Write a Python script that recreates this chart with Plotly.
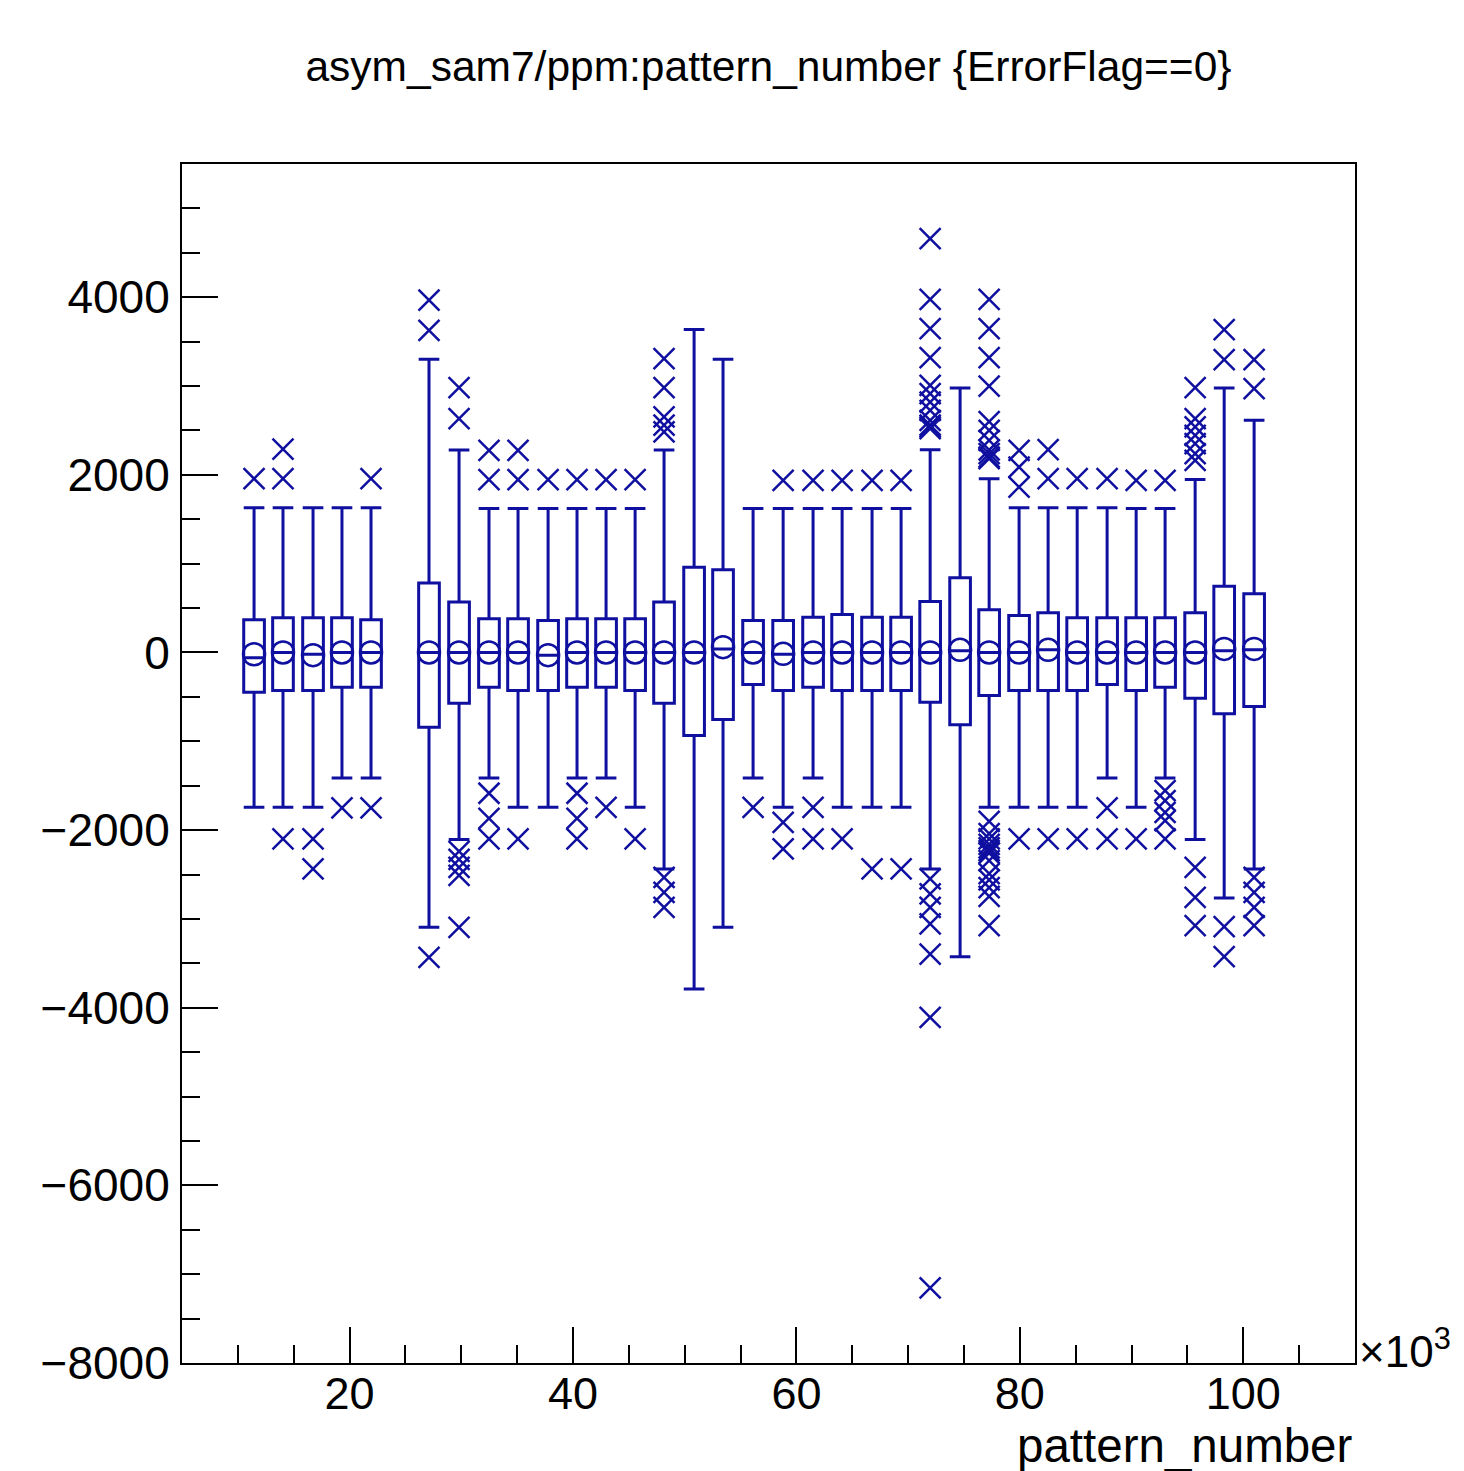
import plotly.graph_objects as go

# ---- data (pattern_number in units of 10^3, asym in ppm) ----
x_centers = [11.45, 14.04, 16.73, 19.32, 21.92, 27.11, 29.80, 32.48, 35.08, 37.77,
             40.36, 42.96, 45.56, 48.15, 50.84, 53.43, 56.12, 58.81, 61.49, 64.09,
             66.77, 69.37, 71.97, 74.65, 77.25, 79.93, 82.53, 85.13, 87.81, 90.41,
             93.00, 95.69, 98.29, 100.97]

q3 = [368, 391, 391, 391, 368, 781, 567, 380, 380, 361,
      380, 380, 380, 567, 961, 931, 361, 361, 398, 428,
      398, 398, 575, 842, 481, 417, 447, 391, 391, 391,
      391, 447, 747, 661]

q1 = [-447, -428, -428, -391, -391, -841, -571, -391, -428, -428,
      -391, -391, -428, -571, -935, -755, -361, -428, -391, -428,
      -428, -428, -560, -815, -484, -428, -428, -428, -361, -428,
      -391, -515, -691, -608]

medians = [-60, 0, -20, 0, 0, 0, 0, 0, 0, -30,
           0, 0, 0, 0, 0, 40, 0, -20, 0, 0,
           0, 0, 0, 20, 0, 0, 30, 0, 0, 0,
           0, 0, 20, 30]

means = [-20, 0, -30, 0, 0, 0, 0, 0, 0, -30,
         0, 0, 0, 0, 0, 60, 0, -15, 0, 0,
         0, 0, 0, 30, 0, 0, 30, 0, 0, 0,
         0, 0, 40, 40]

upper_whisker = [1630, 1630, 1630, 1630, 1630, 3301, 2280, 1620, 1620, 1620,
                 1620, 1620, 1620, 2280, 3636, 3301, 1620, 1620, 1620, 1620,
                 1620, 1620, 2284, 2978, 1957, 1630, 1630, 1630, 1630, 1620,
                 1620, 1949, 2978, 2614]

lower_whisker = [-1743, -1743, -1743, -1412, -1412, -3095, -2107, -1412, -1743, -1743,
                 -1412, -1412, -1743, -2437, -3789, -3095, -1412, -1743, -1412, -1743,
                 -1743, -1743, -2437, -3425, -1743, -1743, -1743, -1743, -1412, -1743,
                 -1412, -2107, -2764, -2437]

outliers = [
    [1957],
    [1957, 2290, -2099],
    [-2099, -2437],
    [-1750],
    [1957, -1750],
    [3966, 3628, -3433],
    [2982, 2633, -2240, -2330, -2420, -2510, -3095],
    [2276, 1946, -1585, -1867, -2099],
    [2276, 1946, -2099],
    [1946],
    [1946, -1585, -1867, -2099],
    [1946, -1743],
    [1946, -2099],
    [3309, 2982, 2652, 2560, 2483, -2532, -2701, -2870],
    [],
    [],
    [-1743],
    [1938, -1912, -2212],
    [1938, -1743, -2099],
    [1938, -2099],
    [1938, -2437],
    [1938, -2437],
    [4661, 3977, 3647, 3320, 3008, 2915, 2820, 2727, 2614, 2560, 2540, 2520,
     -2550, -2719, -2870, -3057, -3395, -4109, -7155],
    [],
    [3977, 3647, 3320, 3000, 2598, 2501, 2389, 2280, 2239, 2200, 2183,
     -1901, -2040, -2100, -2160, -2200, -2230, -2260, -2343, -2490, -2560,
     -2648, -2746, -3076],
    [2276, 2088, 1863, -2099],
    [2284, 1957, -2099],
    [1957, -2099],
    [1957, -1750, -2099],
    [1938, -2099],
    [1938, -1555, -1668, -1800, -1893, -2099],
    [2982, 2633, 2539, 2445, 2351, 2239, 2163, -2419, -2757, -3076],
    [3636, 3298, -3087, -3425],
    [3298, 2971, -2532, -2701, -2870, -3076],
]

title_text = "asym_sam7/ppm:pattern_number {ErrorFlag==0}"
x_title = "pattern_number"

COL = "rgb(15,15,160)"
FONT = "Liberation Sans, Arial, Helvetica, sans-serif"

out_x, out_y = [], []
for xc, vals in zip(x_centers, outliers):
    for v in vals:
        out_x.append(xc)
        out_y.append(v)

fig = go.Figure()
fig.add_trace(go.Box(
    x=x_centers, q1=q1, median=medians, q3=q3,
    lowerfence=lower_whisker, upperfence=upper_whisker,
    boxpoints=False, width=1.85, whiskerwidth=1.0,
    line=dict(color=COL, width=3), fillcolor="rgba(0,0,0,0)",
    showlegend=False, hoverinfo="skip",
))
fig.add_trace(go.Scatter(
    x=x_centers, y=means, mode="markers",
    marker=dict(symbol="circle-open", size=22, color=COL, line=dict(width=2.5, color=COL)),
    showlegend=False, hoverinfo="skip",
))
fig.add_trace(go.Scatter(
    x=out_x, y=out_y, mode="markers",
    marker=dict(symbol="x-thin-open", size=21, color=COL, line=dict(width=2.5, color=COL)),
    showlegend=False, hoverinfo="skip",
))

fig.update_layout(
    width=1464, height=1471,
    margin=dict(l=174, r=117, t=156, b=116),
    paper_bgcolor="white", plot_bgcolor="white",
    font=dict(family=FONT, color="black"),
    title=dict(text=title_text, x=0.5, xref="paper", xanchor="center",
               y=1 - 58 / 1471, yref="container", yanchor="middle",
               font=dict(size=42.5, family=FONT, color="black")),
    xaxis=dict(
        range=[5, 110], showgrid=False, zeroline=False,
        showline=True, linecolor="black", linewidth=2, mirror=True,
        ticks="inside", ticklen=36, tickwidth=2, tickcolor="black",
        tick0=0, dtick=20,
        minor=dict(ticks="inside", ticklen=18, tickwidth=2, tickcolor="black", dtick=5, tick0=0, showgrid=False),
        tickfont=dict(size=45, family=FONT, color="black"),
        ticklabelstandoff=-10,
    ),
    yaxis=dict(
        range=[-8000, 5500], showgrid=False, zeroline=False,
        showline=True, linecolor="black", linewidth=2, mirror=True,
        ticks="inside", ticklen=36, tickwidth=2, tickcolor="black",
        tick0=0, dtick=2000, tickformat="d",
        minor=dict(ticks="inside", ticklen=18, tickwidth=2, tickcolor="black", dtick=500, tick0=0, showgrid=False),
        tickfont=dict(size=46, family=FONT, color="black"),
        ticklabelstandoff=1,
    ),
    annotations=[
        dict(text=x_title, xref="paper", yref="paper", x=1.0, y=-0.0685,
             xanchor="right", yanchor="middle", showarrow=False,
             font=dict(size=47.5, family=FONT, color="black")),
        dict(text="×10<sup>3</sup>", xref="paper", yref="paper", x=1.0, y=0.012,
             xanchor="left", yanchor="middle", showarrow=False, xshift=2,
             font=dict(size=44, family=FONT, color="black")),
    ],
)

fig.write_html("out.html")
